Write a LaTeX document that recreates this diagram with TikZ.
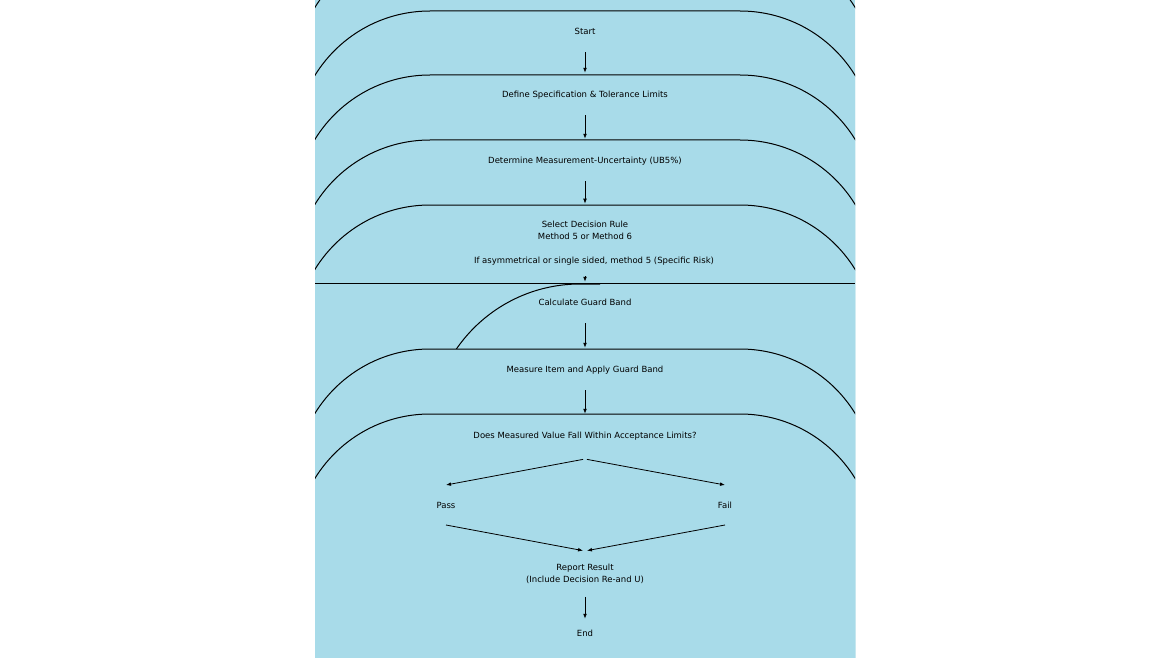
\documentclass[tikz,border=0pt]{standalone}
\usepackage{fontspec}
\setmainfont{DejaVu Sans}
\usetikzlibrary{arrows.meta}
\definecolor{panel}{RGB}{168,219,233}

\begin{document}
\begin{tikzpicture}[x=1pt, y=-1pt, >={Latex[length=5pt,width=3.8pt]},
    stage/.style={fill=panel, draw=black, line width=1pt, rounded corners=135pt},
    oneline/.style={text height=7.5pt, text depth=0.5pt},
    flow/.style={->, line width=0.8pt, shorten <=17pt, shorten >=17pt},
    branch/.style={->, line width=0.8pt}]

    \path[use as bounding box, fill=white] (0,0) rectangle (1170,658);

    \begin{scope}
        \clip (315,0) rectangle (855,658);
        \fill[panel] (315,0) rectangle (855,658);
        \foreach \ytop in {-57,11,75,140,205}
            \filldraw[stage] (295,\ytop) rectangle (875,800);
        \fill[panel] (315,283) rectangle (855,800);
        \draw[line width=1pt] (315,283) -- (855,283);
        \draw[line width=1pt, rounded corners=150pt] (600,284) -- (430,284) -- (430,800);
        \foreach \ytop in {349,414}
            \filldraw[stage] (295,\ytop) rectangle (875,800);
    \end{scope}

    {
        \tikzset{every node/.style={inner sep=0pt, font=\fontsize{8.5}{12}\selectfont}}

        \node[oneline] (start) at (585,31) {Start};
        \node[oneline] (define) at (585,94) {Define Specification \& Tolerance Limits};
        \node[oneline] (determine) at (585,160) {Determine Measurement-Uncertainty (UB5\%)};
        \node[align=center] (select) at (585,243) {Select Decision Rule\\Method 5 or Method 6\\[12pt]\hspace*{18pt}If asymmetrical or single sided, method 5 (Specific Risk)};
        \node[oneline] (calculate) at (585,302) {Calculate Guard Band};
        \node[oneline] (measure) at (585,369) {Measure Item and Apply Guard Band};
        \node[oneline] (does) at (585,435) {Does Measured Value Fall Within Acceptance Limits?};
        \node[oneline, outer ysep=16pt] (pass) at (446,505) {Pass};
        \node[oneline, outer ysep=16pt] (fail) at (725,505) {Fail};
        \node[align=center] (report) at (585,574) {Report Result\\(Include Decision Re-and U)};
        \node[oneline] (end) at (585,633) {End};
    }

    \coordinate (split) at (585,459);
    \coordinate (merge) at (585,551);

    \draw (start) edge[flow] (define);
    \draw (define) edge[flow] (determine);
    \draw (determine) edge[flow] (select);
    \draw (select) edge[flow, shorten <=11pt, shorten >=16pt] (calculate);
    \draw (calculate) edge[flow] (measure);
    \draw (measure) edge[flow] (does);
    \draw (split) edge[branch, shorten <=2pt] (pass.north);
    \draw (split) edge[branch, shorten <=2pt] (fail.north);
    \draw (pass.south) edge[branch, shorten >=2pt] (merge);
    \draw (fail.south) edge[branch, shorten >=2pt] (merge);
    \draw (report) edge[flow, shorten <=13pt, shorten >=10pt] (end);

\end{tikzpicture}
\end{document}
